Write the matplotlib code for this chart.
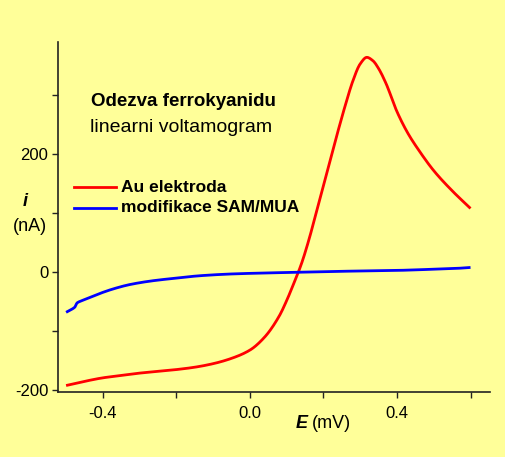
import matplotlib
matplotlib.use("Agg")
import matplotlib.pyplot as plt
import numpy as np

plt.rcParams['font.family'] = ['Liberation Sans', 'DejaVu Sans']

# Data
E_au = [-0.50, -0.45, -0.40, -0.35, -0.30, -0.25, -0.20, -0.15, -0.10, -0.05, 0.00, 0.04, 0.08, 0.10, 0.12,
        0.14, 0.16, 0.18, 0.20, 0.22, 0.24, 0.26, 0.28, 0.30, 0.318, 0.335, 0.35, 0.37, 0.40, 0.43, 0.46,
        0.50, 0.55, 0.60]
i_au = [-192, -185, -179, -175, -171, -168, -165, -161, -155, -146, -132, -110, -74, -48, -18,
        14, 54, 100, 147, 194, 240, 284, 324, 353, 364, 358, 345, 320, 272, 235, 206,
        172, 138, 108]

E_sam = [-0.50, -0.485, -0.476, -0.470, -0.46, -0.44, -0.408, -0.37, -0.327, -0.27, -0.20, -0.136, -0.05, 0.0,
         0.1, 0.2, 0.3, 0.4, 0.5, 0.55, 0.60]
i_sam = [-68, -63, -59, -52, -49, -44, -36, -28, -21, -15, -10, -6, -3, -2,
         -0.5, 1, 2, 3, 5, 6, 8]

xticks_major = [-0.4, 0.0, 0.4]
xtick_labels = ['-0.4', '0.0', '0.4']
xticks_minor = [-0.2, 0.2, 0.6]
yticks_major = [-200, 0, 200]
ytick_labels = ['-200', '0', '200']
yticks_minor = [-100, 100, 300]

bg = '#FFFF99'
fig = plt.figure(figsize=(5.06, 4.57), dpi=100, facecolor=bg)
W, H = 506, 457
ax = fig.add_axes([58 / W, 1 - 392 / H, (490 - 58) / W, (392 - 42) / H])
ax.set_facecolor(bg)

# smooth curves through read points (monotone cubic)
def smooth(x, y, n=500):
    x = np.asarray(x, float); y = np.asarray(y, float)
    xs = np.linspace(x.min(), x.max(), n)
    h = np.diff(x); d = np.diff(y) / h
    m = np.zeros_like(y)
    m[0] = d[0]; m[-1] = d[-1]
    for k in range(1, len(x) - 1):
        if d[k - 1] * d[k] <= 0:
            m[k] = 0
        else:
            w1 = 2 * h[k] + h[k - 1]; w2 = h[k] + 2 * h[k - 1]
            m[k] = (w1 + w2) / (w1 / d[k - 1] + w2 / d[k])
    idx = np.clip(np.searchsorted(x, xs) - 1, 0, len(x) - 2)
    t = (xs - x[idx]) / h[idx]
    h00 = 2 * t**3 - 3 * t**2 + 1; h10 = t**3 - 2 * t**2 + t
    h01 = -2 * t**3 + 3 * t**2; h11 = t**3 - t**2
    ys = h00 * y[idx] + h10 * h[idx] * m[idx] + h01 * y[idx + 1] + h11 * h[idx] * m[idx + 1]
    return xs, ys

xa, ya = smooth(E_au, i_au)
xb, yb = smooth(E_sam, i_sam)
ax.plot(xa, ya, color='#FF0000', lw=2.0, solid_capstyle='butt')
ax.plot(xb, yb, color='#0000FF', lw=2.0, solid_capstyle='butt')

ax.set_xlim(-0.522, 0.653)
ax.set_ylim(-203, 390)
for s in ['top', 'right']:
    ax.spines[s].set_visible(False)
for s in ['left', 'bottom']:
    ax.spines[s].set_linewidth(1.2)
    ax.spines[s].set_color('#222222')

ax.set_xticks(xticks_major)
ax.set_xticklabels(xtick_labels)
ax.set_xticks(xticks_minor, minor=True)
ax.set_yticks(yticks_major)
ax.set_yticklabels(ytick_labels)
ax.set_yticks(yticks_minor, minor=True)
ax.tick_params(which='both', direction='out', length=4, width=1, colors='#222222', labelsize=12, labelcolor='black')
ax.tick_params(axis='x', pad=6)
ax.tick_params(axis='y', pad=3)

def px(x, y):
    return x / W, 1 - y / H

fig.text(*px(91, 102), 'Odezva ferrokyanidu', fontsize=13.5, fontweight='bold', va='center', ha='left')
fig.text(*px(90, 127), 'linearni voltamogram', fontsize=14, va='center', ha='left')

# legend
for yy, col, lab in [(187, '#FF0000', 'Au elektroda'), (208, '#0000FF', 'modifikace SAM/MUA')]:
    fig.add_artist(plt.Line2D([74 / W, 116 / W], [1 - yy / H, 1 - yy / H], color=col, lw=2.0))
    fig.text(*px(121, yy), lab, fontsize=12.5, fontweight='bold', va='center', ha='left')

fig.text(*px(25, 202), 'i', fontsize=13, fontweight='bold', style='italic', va='center', ha='center')
fig.text(*px(30, 226), '(nA)', fontsize=13, va='center', ha='center')

fig.text(*px(308, 423), 'E', fontsize=13, fontweight='bold', style='italic', va='center', ha='right')
fig.text(*px(312, 423), '(mV)', fontsize=13, va='center', ha='left')

fig.savefig('out.png', dpi=100, facecolor=bg)
